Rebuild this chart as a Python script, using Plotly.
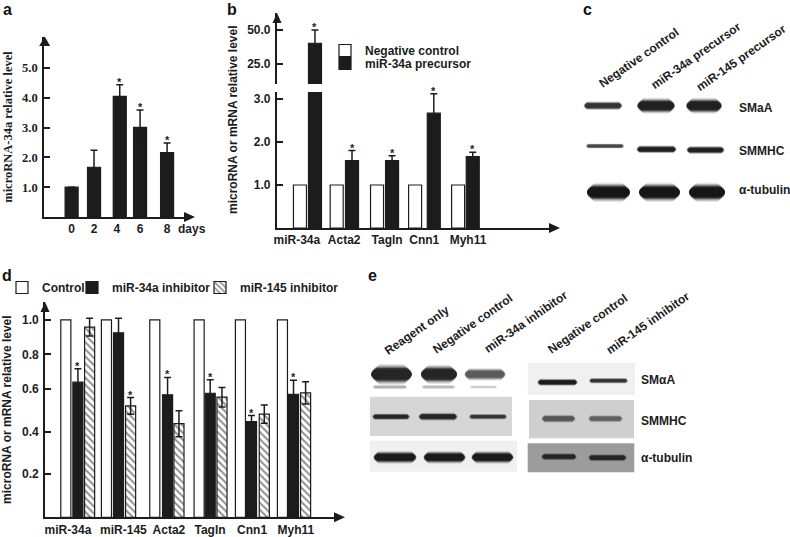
import plotly.graph_objects as go

# ---------- data ----------
a_days = ["0", "2", "4", "6", "8"]
a_level = [1.0, 1.67, 4.05, 3.01, 2.16]
a_err = [0.0, 0.57, 0.39, 0.58, 0.32]
a_star = [False, False, True, True, True]
a_ticks = [1, 2, 3, 4, 5]

b_genes = ["miR-34a", "Acta2", "Tagln", "Cnn1", "Myh11"]
b_control = [1.0, 1.0, 1.0, 1.0, 1.0]
b_precursor = [40.4, 1.57, 1.57, 2.67, 1.66]
b_err = [9.8, 0.23, 0.11, 0.45, 0.10]
b_low_ticks = [1, 2, 3]
b_high_ticks = [25, 50]

d_genes = ["miR-34a", "miR-145", "Acta2", "Tagln", "Cnn1", "Myh11"]
d_control = [1.0, 1.0, 1.0, 1.0, 1.0, 1.0]
# The reference's d axis has unevenly spaced ticks, so values are in its height
# scale (1.0 = top tick) and each label sits where the reference prints it.
d_mir34 = [0.684, 0.934, 0.620, 0.628, 0.485, 0.623]
d_mir34_err = [0.068, 0.074, 0.088, 0.069, 0.030, 0.071]
d_mir145 = [0.963, 0.564, 0.474, 0.608, 0.522, 0.630]
d_mir145_err = [0.045, 0.042, 0.066, 0.049, 0.046, 0.056]
d_star34 = [True, False, True, True, True, True]
d_star145 = [False, True, False, False, False, False]
d_tickpos = [0.218, 0.433, 0.651, 0.825, 1.0]
d_ticklabels = ["0.2", "0.4", "0.6", "0.8", "1.0"]

# blots: x0, x1, y centre, thickness, grey level
c_bands = [
    (583, 623, 105.7, 5.5, 50), (635, 677, 105.7, 10, 30), (684, 724, 105.7, 10, 30),
    (586, 624, 146, 3, 70), (636, 677, 149.3, 5, 30), (686, 725, 150, 5, 30),
    (584, 633, 192.3, 12, 20), (636, 683, 192.3, 12, 20), (686, 728, 192.3, 12, 20),
]
e_panels = [
    (370, 512, 396.7, 436, "#d6d6d6"), (370, 517, 440.7, 471.7, "#f0f0f0"),
    (527.7, 635, 362.7, 395, "#f0f0f0"), (529, 634, 400, 438.3, "#cfcfcf"),
    (527.7, 634.3, 443.3, 472.3, "#9c9c9c"),
]
e_bands = [
    (368, 415, 374.3, 13, 35), (418, 460, 374.3, 12, 35), (463, 507, 374.3, 8, 90),
    (373, 407, 387, 2.5, 175), (422, 455, 387, 2.5, 190), (470, 497, 387, 2, 205),
    (372, 410, 416.7, 4, 35), (418, 458, 416.7, 5, 35), (469, 507, 416.7, 3.5, 50),
    (372, 418, 457.3, 8, 25), (422, 467, 457.3, 8, 25), (470, 515, 457.3, 8, 25),
    (537, 578, 382.3, 4.5, 25), (589, 628, 380.7, 3.5, 50),
    (541, 576, 418.7, 5, 85), (588, 623, 418.7, 4.5, 95),
    (541, 577, 456.7, 4.5, 35), (588, 627, 457.7, 4.5, 35),
]

# ---------- styling and layout helpers ----------
W, H = 790, 537
INK = "#1c1c1c"
SANS = "Liberation Sans"
SERIF = "Liberation Serif"
sans = dict(family=SANS, size=12, color=INK, weight="bold")
serif = dict(family=SERIF, size=12.5, color=INK, weight="bold")

# pixels per category on each panel, and the reference's small per-bar shifts (px)
A_STEP, B_STEP, D_STEP = 23.85, 39.4, 43.0
a_shift = [0, -1.45, 0.4, -3.15, 0]
b_shift_white = [0, -2.7, -1.8, -3.2, 0.4]
b_shift_black = [0, -2.4, -1.8, 0.5, 0]
d_shift_white = [0, -2.7, 2.3, 3.3, 1.3, 0]
d_shift_black = [0, -2.7, 3, 2.3, 0.3, -1]
d_shift_hatch = [-0.4, -2.7, 2.3, 2, 1, -1]
# label slots avoid whole numbers that would be read as the digit categories of panel a
a_label_slots = [0.001, 0.94, 1.9, 2.87, 4.001]
b_label_slots = [-0.27, 0.93, 2.02, 2.96, 4.07]
d_label_slots = [-0.23, 1.05, 2.1, 3.05, 4.02, 5.03]


def px_x(x):
    return x / W


def px_y(y):
    return 1 - y / H


def err(arr):
    return dict(type="data", array=arr, color=INK, thickness=1.5, width=3.5)


def offsets(centre_px, width_px, shifts, step):
    return [(centre_px + s - width_px / 2) / step for s in shifts]


def bar(x, y, name, fill, xa, ya, width, offset, error=None, legend=None, show=False, pattern=None):
    marker = dict(color=fill, line=dict(color=INK, width=1.2))
    if pattern:
        marker["pattern"] = dict(shape=pattern, size=5, solidity=0.4, fgcolor=INK, bgcolor="white")
    return go.Bar(x=x, y=y, name=name, marker=marker, xaxis=xa, yaxis=ya, width=width, offset=offset,
                  error_y=error, legend=legend or "legend", showlegend=show)


fig = go.Figure()

# panel a
fig.add_trace(bar(a_days, a_level, "microRNA-34a", INK, "x", "y", 13 / A_STEP,
                  offsets(0, 13, a_shift, A_STEP), err(a_err)))

# panel b: broken axis, the same series drawn on the lower and upper scale
BW = 13 / B_STEP
fig.add_trace(bar(b_genes, b_control, "Negative control", "white", "x2", "y2", BW,
                  offsets(-7.5, 13, b_shift_white, B_STEP), show=True))
fig.add_trace(bar(b_genes, b_precursor, "miR-34a precursor", INK, "x2", "y2", BW,
                  offsets(7.5, 13, b_shift_black, B_STEP), err(b_err), legend="legend5", show=True))
fig.add_trace(bar(b_genes, b_precursor, "miR-34a precursor", INK, "x3", "y3", BW,
                  offsets(7.5, 13, b_shift_black, B_STEP), err(b_err)))

# panel d
DW = 10 / D_STEP
fig.add_trace(bar(d_genes, d_control, "Control", "white", "x4", "y4", DW,
                  offsets(-12, 10, d_shift_white, D_STEP), legend="legend2", show=True))
fig.add_trace(bar(d_genes, d_mir34, "miR-34a inhibitor", INK, "x4", "y4", DW,
                  offsets(0, 10, d_shift_black, D_STEP), err(d_mir34_err), legend="legend3", show=True))
fig.add_trace(bar(d_genes, d_mir145, "miR-145 inhibitor", "white", "x4", "y4", DW,
                  offsets(12, 10, d_shift_hatch, D_STEP), err(d_mir145_err), legend="legend4", show=True,
                  pattern="\\"))


def xaxis(l, r, lo, hi, anchor, cats, slots=None, visible=True):
    d = dict(domain=[px_x(l), px_x(r)], range=[lo, hi], anchor=anchor, type="category",
             categoryorder="array", categoryarray=cats, showgrid=False, zeroline=False,
             showline=visible, linecolor=INK, linewidth=1.6, ticks="", showticklabels=visible,
             tickfont=sans, ticklabelstandoff=0, tickangle=0)
    if slots:
        d.update(tickmode="array", tickvals=slots, ticktext=cats)
    return d


def yaxis(top, bottom, lo, hi, anchor, vals, text=None, font=sans, title=None, standoff=8, ticklen=6):
    d = dict(domain=[px_y(bottom), px_y(top)], range=[lo, hi], anchor=anchor, showgrid=False, zeroline=False,
             showline=True, linecolor=INK, linewidth=1.6, ticks="inside", ticklen=ticklen, tickwidth=1.6,
             tickcolor=INK, tickmode="array", tickvals=vals, tickfont=font, ticklabelstandoff=2)
    if text:
        d["ticktext"] = text
    if title:
        d["title"] = dict(text=title, font=font if font is serif else sans, standoff=standoff)
    return d


layout = dict(
    width=W, height=H, margin=dict(l=0, r=0, t=0, b=0, autoexpand=False), autosize=False,
    paper_bgcolor="white", plot_bgcolor="rgba(0,0,0,0)", barmode="overlay",
    font=dict(family=SANS, size=12, color=INK),
    xaxis=xaxis(44, 190, -1.157, 4.96, "y", a_days, a_label_slots),
    yaxis=yaxis(37, 217, 0, 6.04, "x", a_ticks, [f"{v:.1f}" for v in a_ticks], serif,
                "microRNA-34a relative level", 7),
    xaxis2=xaxis(276.7, 552, -0.78, 6.2, "y2", b_genes, b_label_slots),
    yaxis2=yaxis(92, 228, 0, 3.163, "x2", b_low_ticks, [f"{v:.1f}" for v in b_low_ticks]),
    xaxis3=xaxis(276.7, 552, -0.78, 6.2, "y3", b_genes, visible=False),
    yaxis3=yaxis(13, 84, 10.2, 62.8, "x3", b_high_ticks, [f"{v:.1f}" for v in b_high_ticks]),
    xaxis4=xaxis(45, 340, -0.76, 6.05, "y4", d_genes, d_label_slots),
    yaxis4=yaxis(302, 517.3, 0, 1.09, "x4", d_tickpos, d_ticklabels, sans,
                 "microRNA or mRNA relative level", 8),
)


def legend(x, y, **kw):
    return dict(x=px_x(x), y=px_y(y), xanchor="left", yanchor="top", bgcolor="rgba(0,0,0,0)",
                font=sans, borderwidth=0, itemclick=False, itemdoubleclick=False, **kw)


layout["legend"] = legend(325, 36)
layout["legend5"] = legend(325, 49)
layout["legend2"] = legend(2, 273)
layout["legend3"] = legend(72, 273)
layout["legend4"] = legend(200, 273)

ann = []


def label(text, x, y, font=sans, anchor="center", angle=0):
    ann.append(dict(text=text, x=px_x(x), y=px_y(y), xref="paper", yref="paper", showarrow=False,
                    font=font, xanchor=anchor, yanchor="middle", textangle=angle))


def stars(vals, errs, flags, shifts, xa, ya, shift=0):
    for i, (v, e, f, s) in enumerate(zip(vals, errs, flags, shifts)):
        if f:
            ann.append(dict(text="*", x=i, y=v + e, xref=xa, yref=ya, showarrow=False, xshift=shift + s,
                            yshift=-5, yanchor="bottom", font=dict(family=SANS, size=11, color=INK, weight="bold")))


stars(a_level, a_err, a_star, a_shift, "x", "y")
stars(b_precursor, b_err, [False, True, True, True, True], b_shift_black, "x2", "y2", 7.5)
stars(b_precursor, b_err, [True, False, False, False, False], b_shift_black, "x3", "y3", 7.5)
stars(d_mir34, d_mir34_err, d_star34, d_shift_black, "x4", "y4")
stars(d_mir145, d_mir145_err, d_star145, d_shift_hatch, "x4", "y4", 12)

label("days", 192, 229)
label("microRNA or mRNA relative level", 233, 120, angle=-90)

letter = dict(family=SANS, size=16, color="#111111", weight="bold")
for t, x, y in [("a", 7, 10), ("b", 232, 10), ("c", 587, 10), ("d", 7, 275), ("e", 372, 275)]:
    label(t, x, y, letter)

for t, x, y in [("Negative control", 638.7, 58), ("miR-34a precursor", 695.7, 56), ("miR-145 precursor", 741, 57.7),
                ("Reagent only", 417.3, 330), ("Negative control", 472.7, 324.3), ("miR-34a inhibitor", 525.7, 322.3),
                ("Negative control", 587.7, 324.3), ("miR-145 inhibitor", 648, 323.3)]:
    label(t, x, y, sans, angle=-35)

for t, x, y in [("SMaA", 737, 108), ("SMMHC", 737, 151), ("α-tubulin", 737, 190),
                ("SMαA", 639.3, 380), ("SMMHC", 639.3, 420.7), ("α-tubulin", 639.3, 458.3)]:
    label(t, x, y, sans, anchor="left")

layout["annotations"] = ann

shapes = []


def poly(points, color=INK):
    d = "M" + " L".join(f"{px_x(x):.5f},{px_y(y):.5f}" for x, y in points) + " Z"
    shapes.append(dict(type="path", path=d, xref="paper", yref="paper", fillcolor=color, line=dict(width=0)))


# axis arrowheads
poly([(44.7, 36.5), (39.2, 46), (50.2, 46)])
poly([(195, 217), (184, 212), (184, 222)])
poly([(277, 13), (272.5, 23), (281.5, 23)])
poly([(560, 228), (549, 223), (549, 233)])
poly([(45, 302), (40.5, 312), (49.5, 312)])
poly([(345, 517.3), (334, 512.3), (334, 522.3)])

for x0, x1, y0, y1, col in e_panels:
    shapes.append(dict(type="rect", x0=px_x(x0), x1=px_x(x1), y0=px_y(y0), y1=px_y(y1), xref="paper", yref="paper",
                       fillcolor=col, line=dict(width=0)))


def band(x0, x1, y, t, grey):
    col = f"rgb({grey},{grey},{grey})"
    for grow, pad, op in [(1.6, 1.5, 0.12), (1.4, 1.0, 0.18), (1.25, 0.5, 0.25), (1.1, 0, 0.4),
                          (0.95, -0.5, 0.7), (0.75, -1.0, 0.9)]:
        h = t * grow / 2
        l, r = x0 - pad, x1 + pad
        rx = min(h * 1.3, (r - l) / 3)
        pts = (f"M{px_x(l + rx):.5f},{px_y(y - h):.5f} L{px_x(r - rx):.5f},{px_y(y - h):.5f} "
               f"Q{px_x(r + rx * 0.3):.5f},{px_y(y):.5f} {px_x(r - rx):.5f},{px_y(y + h):.5f} "
               f"L{px_x(l + rx):.5f},{px_y(y + h):.5f} "
               f"Q{px_x(l - rx * 0.3):.5f},{px_y(y):.5f} {px_x(l + rx):.5f},{px_y(y - h):.5f} Z")
        shapes.append(dict(type="path", path=pts, xref="paper", yref="paper", fillcolor=col, opacity=op,
                           line=dict(width=0)))


for b in c_bands + e_bands:
    band(*b)

layout["shapes"] = shapes
fig.update_layout(**layout)
fig.write_html("out.html", config={"displayModeBar": False},
               post_script="document.body.style.margin='0';")
